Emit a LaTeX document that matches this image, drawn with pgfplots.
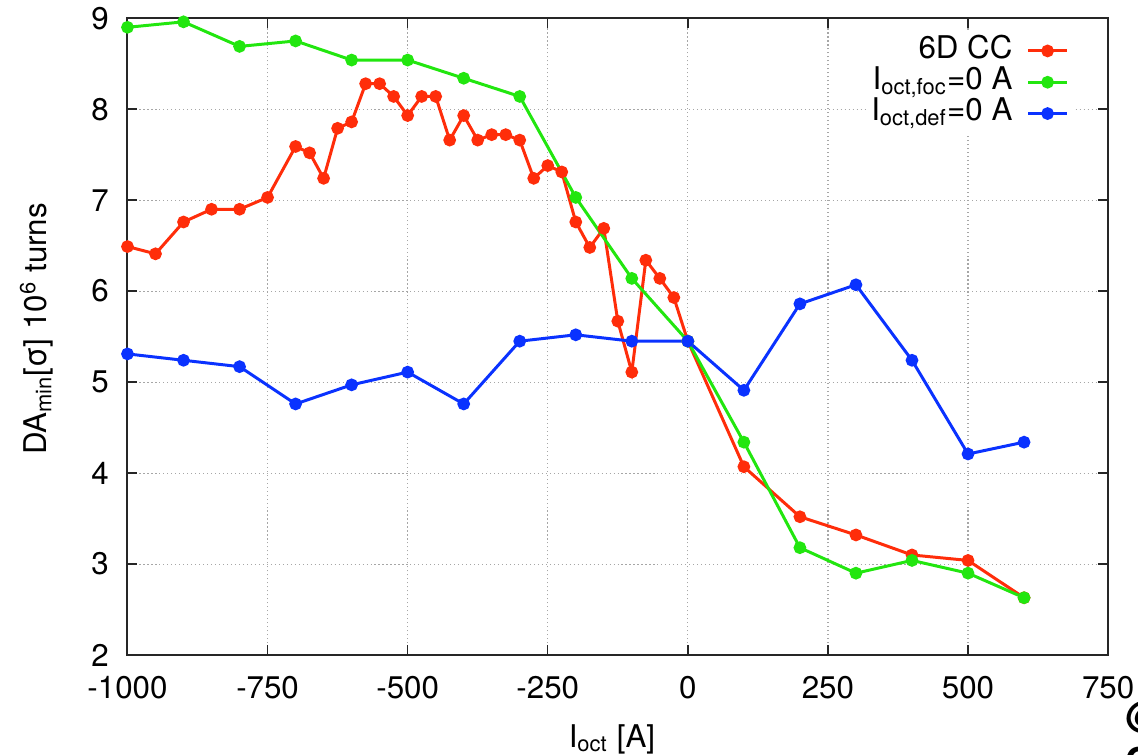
\documentclass[border=0pt]{standalone}
\usepackage{fontspec}
\setmainfont{TeX Gyre Heros}
\usepackage{pgfplots}
\pgfplotsset{compat=1.18}
\definecolor{ccRed}{HTML}{FF2D0A}
\definecolor{ccGreen}{HTML}{22E60F}
\definecolor{ccBlue}{HTML}{0A32FF}

\begin{document}
\begin{tikzpicture}[font=\fontsize{11}{13}\selectfont]
\begin{axis}[scale only axis,width=344.6pt,height=223.8pt,
xmin=-1000,xmax=750,ymin=2,ymax=9,
xtick={-1000,-750,...,750},ytick={2,...,9},
grid=major,major grid style={densely dotted,black!35,line width=0.4pt},
tick align=inside,major tick length=3.5pt,
axis line style={black!85,line width=0.7pt},
every tick/.style={black!85,line width=0.5pt},
/pgf/number format/assume math mode=true,
/pgf/number format/1000 sep={},
xticklabel style={yshift=-4pt},
yticklabel style={xshift=-3pt},
xlabel={I\textsubscript{oct} [A]},
ylabel={DA\textsubscript{min}[σ] 10\textsuperscript{6} turns},
every axis x label/.style={at={(axis description cs:0.494,-0.1445)},anchor=base},
every axis y label/.style={at={(axis description cs:-0.0824,0.512)},rotate=90,anchor=base},
legend plot pos=right,
legend cell align=right,
legend image code/.code={\draw[mark repeat=2,mark phase=2,#1]
  plot coordinates {(0cm,0cm) (0.24cm,0cm) (0.48cm,0cm)};},
legend style={at={(axis description cs:0.966,0.983)},anchor=north east,
  draw=none,fill=white,inner sep=2pt,column sep=5pt,row sep=0pt,
  nodes={text height=8pt,text depth=3pt,inner sep=0pt}},
every axis plot/.append style={line width=1.05pt,mark=*,mark size=1.7pt},
clip=false]
\addplot[ccRed,mark options={fill=ccRed}] coordinates {
(-1000,6.49) (-950,6.41) (-900,6.76) (-850,6.90) (-800,6.90) (-750,7.03)
(-700,7.59) (-675,7.52) (-650,7.24) (-625,7.79) (-600,7.86) (-575,8.28)
(-550,8.28) (-525,8.14) (-500,7.93) (-475,8.14) (-450,8.14) (-425,7.66)
(-400,7.93) (-375,7.66) (-350,7.72) (-325,7.72) (-300,7.66) (-275,7.24)
(-250,7.38) (-225,7.31) (-200,6.76) (-175,6.48) (-150,6.69) (-125,5.67)
(-100,5.11) (-75,6.34) (-50,6.14) (-25,5.93) (0,5.45) (100,4.07)
(200,3.52) (300,3.32) (400,3.10) (500,3.04) (600,2.63)};
\addlegendentry{6D CC}
\addplot[ccGreen,mark options={fill=ccGreen}] coordinates {
(-1000,8.90) (-900,8.96) (-800,8.69) (-700,8.75) (-600,8.54) (-500,8.54)
(-400,8.34) (-300,8.14) (-200,7.03) (-100,6.14) (0,5.45) (100,4.34)
(200,3.18) (300,2.90) (400,3.04) (500,2.90) (600,2.63)};
\addlegendentry{I\textsubscript{oct,foc}=0 A}
\addplot[ccBlue,mark options={fill=ccBlue}] coordinates {
(-1000,5.31) (-900,5.24) (-800,5.17) (-700,4.76) (-600,4.97) (-500,5.11)
(-400,4.76) (-300,5.45) (-200,5.52) (-100,5.45) (0,5.45) (100,4.91)
(200,5.86) (300,6.07) (400,5.24) (500,4.21) (600,4.34)};
\addlegendentry{I\textsubscript{oct,def}=0 A}
\end{axis}
% bold slide text cut off at the right edge, as in the source image
\node[anchor=base west,font=\fontsize{13}{15}\bfseries,inner sep=0pt]
  at ([xshift=6pt,yshift=-25.7pt]current axis.south east) {@};
\node[anchor=base west,font=\fontsize{13}{15}\bfseries,inner sep=0pt]
  at ([xshift=6pt,yshift=-42pt]current axis.south east) {C};
\pgfresetboundingbox
\path[use as bounding box]
  ([xshift=-44.8pt,yshift=-35.1pt]current axis.south west) rectangle
  ([xshift=10.5pt,yshift=6.4pt]current axis.north east);
\end{tikzpicture}
\end{document}
